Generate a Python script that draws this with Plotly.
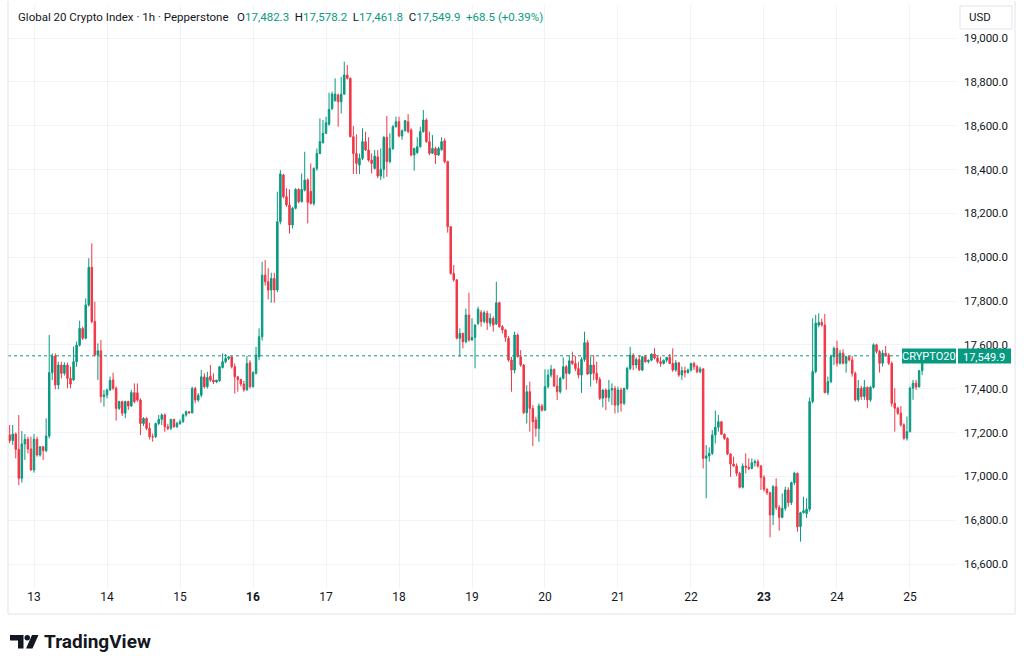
import plotly.graph_objects as go
import pandas as pd

# ---------------- data (hourly candles) ----------------
OPEN = [
    17189, 17163, 17193, 17123, 16991, 17148, 17169, 17125, 17029, 17169,
    17097, 17135, 17117, 17184, 17473, 17549, 17417, 17508, 17470, 17508,
    17447, 17440, 17523, 17599, 17675, 17630, 17782, 17954, 17706, 17554,
    17573, 17364, 17371, 17394, 17440, 17402, 17310, 17341, 17288, 17341,
    17321, 17382, 17381, 17348, 17241, 17264, 17219, 17181, 17181, 17241,
    17260, 17280, 17226, 17219, 17260, 17226, 17241, 17249, 17280, 17295,
    17290, 17401, 17348, 17370, 17454, 17409, 17457, 17439, 17431, 17436,
    17497, 17523, 17538, 17545, 17500, 17454, 17442, 17421, 17395, 17518,
    17409, 17470, 17546, 17637, 17918, 17888, 17850, 17903, 17850, 18162,
    18375, 18276, 18238, 18147, 18223, 18309, 18253, 18306, 18352, 18300,
    18245, 18405, 18473, 18522, 18565, 18607, 18679, 18714, 18740, 18709,
    18744, 18831, 18816, 18550, 18473, 18420, 18451, 18527, 18489, 18443,
    18405, 18458, 18370, 18401, 18547, 18436, 18496, 18595, 18618, 18553,
    18577, 18618, 18580, 18466, 18477, 18504, 18573, 18626, 18527, 18474,
    18496, 18466, 18490, 18531, 18436, 18139, 17926, 17896, 17630, 17652,
    17614, 17736, 17622, 17634, 17698, 17747, 17706, 17744, 17698, 17721,
    17695, 17792, 17683, 17668, 17630, 17531, 17485, 17645, 17546, 17508,
    17290, 17386, 17310, 17257, 17219, 17321, 17302, 17409, 17462, 17488,
    17412, 17386, 17447, 17500, 17470, 17527, 17515, 17492, 17462, 17533,
    17610, 17467, 17508, 17470, 17442, 17356, 17394, 17360, 17394, 17401,
    17325, 17394, 17333, 17401, 17492, 17553, 17508, 17533, 17485, 17546,
    17523, 17530, 17558, 17540, 17523, 17515, 17530, 17543, 17515, 17485,
    17518, 17462, 17482, 17473, 17485, 17515, 17500, 17477, 17490, 17082,
    17093, 17105, 17189, 17224, 17249, 17192, 17173, 17102, 17056, 17047,
    17014, 16950, 17047, 17041, 17036, 17062, 17067, 17047, 16995, 16941,
    16925, 16824, 16953, 16858, 16813, 16854, 16938, 16880, 16971, 17014,
    16770, 16834, 16830, 16850, 17341, 17478, 17690, 17702, 17690, 17382,
    17432, 17546, 17584, 17516, 17562, 17516, 17546, 17531, 17470, 17349,
    17402, 17364, 17406, 17349, 17406, 17600, 17570, 17516, 17562, 17554,
    17516, 17333, 17311, 17288, 17235, 17174, 17204, 17402, 17425, 17408,
    17482.3,
]
HIGH = [
    17234, 17234, 17200, 17280, 17207, 17193, 17181, 17181, 17193, 17181,
    17138, 17138, 17265, 17645, 17561, 17561, 17523, 17523, 17520, 17519,
    17500, 17592, 17615, 17710, 17683, 17812, 17995, 18063, 17797, 17607,
    17622, 17394, 17400, 17455, 17473, 17410, 17345, 17345, 17345, 17345,
    17394, 17424, 17424, 17356, 17270, 17269, 17244, 17195, 17245, 17280,
    17287, 17287, 17240, 17262, 17262, 17249, 17260, 17287, 17300, 17298,
    17409, 17409, 17380, 17485, 17470, 17477, 17508, 17470, 17440, 17504,
    17561, 17558, 17549, 17548, 17515, 17457, 17445, 17436, 17549, 17530,
    17480, 17591, 17675, 17979, 17987, 17949, 17929, 17929, 18299, 18397,
    18380, 18314, 18309, 18230, 18315, 18315, 18382, 18481, 18360, 18428,
    18410, 18496, 18633, 18626, 18641, 18750, 18755, 18816, 18747, 18823,
    18892, 18877, 18820, 18598, 18560, 18473, 18588, 18572, 18547, 18473,
    18489, 18489, 18496, 18552, 18644, 18565, 18603, 18641, 18641, 18583,
    18626, 18653, 18588, 18500, 18547, 18595, 18671, 18633, 18573, 18557,
    18504, 18504, 18547, 18542, 18440, 18142, 17964, 17900, 17675, 17656,
    17766, 17838, 17721, 17695, 17774, 17759, 17756, 17756, 17744, 17730,
    17888, 17797, 17690, 17672, 17640, 17545, 17660, 17652, 17576, 17512,
    17416, 17432, 17325, 17272, 17333, 17330, 17488, 17488, 17508, 17492,
    17462, 17454, 17543, 17508, 17553, 17569, 17549, 17523, 17543, 17660,
    17622, 17546, 17553, 17523, 17454, 17398, 17401, 17440, 17424, 17412,
    17409, 17405, 17405, 17500, 17591, 17561, 17543, 17553, 17549, 17553,
    17533, 17561, 17584, 17549, 17546, 17533, 17545, 17558, 17584, 17530,
    17520, 17500, 17500, 17492, 17518, 17523, 17508, 17500, 17495, 17143,
    17132, 17211, 17300, 17280, 17252, 17196, 17178, 17105, 17090, 17059,
    17021, 17059, 17105, 17082, 17082, 17077, 17077, 17052, 17005, 16945,
    16930, 16960, 16991, 16869, 16922, 16953, 16950, 16976, 17021, 17017,
    16838, 16907, 16900, 17360, 17721, 17737, 17744, 17720, 17741, 17455,
    17555, 17592, 17619, 17577, 17580, 17550, 17550, 17550, 17478, 17440,
    17413, 17440, 17410, 17413, 17607, 17605, 17577, 17577, 17595, 17562,
    17524, 17402, 17318, 17321, 17242, 17273, 17410, 17440, 17440, 17486,
    17578.2,
]
LOW = [
    17151, 17143, 17082, 16960, 16971, 17075, 17105, 17026, 17017, 17090,
    17090, 17075, 17110, 17173, 17440, 17397, 17397, 17447, 17460, 17402,
    17402, 17435, 17500, 17592, 17622, 17625, 17774, 17698, 17546, 17440,
    17336, 17318, 17356, 17390, 17394, 17254, 17303, 17275, 17265, 17303,
    17318, 17333, 17340, 17188, 17230, 17211, 17168, 17158, 17175, 17234,
    17234, 17203, 17210, 17211, 17222, 17222, 17235, 17245, 17272, 17285,
    17286, 17333, 17340, 17360, 17401, 17401, 17431, 17421, 17425, 17432,
    17492, 17515, 17530, 17492, 17378, 17386, 17410, 17386, 17390, 17401,
    17405, 17465, 17530, 17620, 17870, 17807, 17792, 17792, 17840, 18150,
    18268, 18230, 18108, 18131, 18218, 18245, 18250, 18300, 18154, 18240,
    18235, 18394, 18470, 18519, 18562, 18600, 18671, 18710, 18595, 18656,
    18740, 18811, 18547, 18379, 18379, 18379, 18443, 18485, 18435, 18382,
    18400, 18360, 18352, 18360, 18367, 18428, 18489, 18592, 18547, 18535,
    18573, 18565, 18460, 18395, 18471, 18500, 18568, 18522, 18466, 18471,
    18425, 18461, 18486, 18428, 18112, 17920, 17888, 17625, 17546, 17584,
    17607, 17614, 17619, 17493, 17690, 17683, 17698, 17668, 17683, 17660,
    17690, 17678, 17652, 17614, 17523, 17386, 17470, 17542, 17500, 17284,
    17241, 17204, 17138, 17181, 17158, 17295, 17299, 17401, 17451, 17409,
    17348, 17378, 17442, 17395, 17465, 17508, 17480, 17447, 17381, 17523,
    17462, 17409, 17439, 17424, 17348, 17315, 17302, 17340, 17325, 17287,
    17290, 17295, 17325, 17394, 17485, 17485, 17492, 17482, 17480, 17518,
    17515, 17525, 17533, 17515, 17500, 17510, 17520, 17512, 17477, 17477,
    17454, 17440, 17451, 17470, 17477, 17485, 17470, 17470, 17036, 16900,
    17067, 17097, 17150, 17204, 17189, 17166, 17097, 16998, 17044, 17001,
    16945, 16945, 17014, 17029, 17032, 17044, 17040, 16938, 16930, 16915,
    16722, 16778, 16846, 16752, 16808, 16843, 16862, 16869, 16960, 16747,
    16702, 16831, 16810, 16840, 17333, 17470, 17680, 17683, 17379, 17371,
    17425, 17508, 17501, 17510, 17510, 17473, 17525, 17455, 17341, 17341,
    17349, 17349, 17311, 17340, 17400, 17560, 17473, 17501, 17546, 17508,
    17318, 17204, 17280, 17227, 17166, 17163, 17200, 17349, 17394, 17406,
    17461.8,
]
CLOSE = [
    17163, 17193, 17123, 16991, 17148, 17169, 17125, 17029, 17169, 17097,
    17135, 17117, 17184, 17473, 17549, 17417, 17508, 17470, 17508, 17447,
    17421, 17523, 17599, 17675, 17630, 17782, 17954, 17706, 17554, 17573,
    17364, 17371, 17394, 17437, 17402, 17310, 17341, 17288, 17341, 17321,
    17382, 17341, 17348, 17241, 17264, 17219, 17181, 17180, 17241, 17260,
    17280, 17226, 17219, 17260, 17226, 17241, 17249, 17280, 17295, 17290,
    17401, 17348, 17370, 17454, 17409, 17451, 17439, 17431, 17439, 17500,
    17523, 17538, 17545, 17500, 17454, 17442, 17421, 17395, 17515, 17409,
    17473, 17553, 17637, 17918, 17888, 17850, 17903, 17850, 18162, 18380,
    18276, 18238, 18147, 18223, 18309, 18253, 18309, 18352, 18250, 18245,
    18405, 18473, 18527, 18565, 18613, 18674, 18744, 18744, 18709, 18744,
    18831, 18816, 18550, 18473, 18428, 18451, 18527, 18489, 18443, 18428,
    18461, 18370, 18401, 18547, 18436, 18496, 18595, 18618, 18553, 18577,
    18623, 18573, 18466, 18496, 18504, 18573, 18626, 18527, 18474, 18496,
    18466, 18496, 18527, 18436, 18139, 17926, 17896, 17630, 17652, 17614,
    17736, 17622, 17634, 17690, 17762, 17706, 17747, 17701, 17721, 17690,
    17792, 17683, 17668, 17634, 17531, 17485, 17645, 17546, 17508, 17290,
    17386, 17310, 17249, 17219, 17321, 17302, 17409, 17462, 17488, 17412,
    17386, 17447, 17500, 17470, 17527, 17515, 17492, 17462, 17533, 17610,
    17467, 17508, 17470, 17442, 17356, 17394, 17360, 17394, 17401, 17325,
    17394, 17333, 17401, 17492, 17553, 17508, 17533, 17485, 17546, 17523,
    17530, 17558, 17540, 17523, 17515, 17530, 17543, 17515, 17485, 17518,
    17462, 17482, 17473, 17485, 17515, 17500, 17477, 17490, 17082, 17093,
    17105, 17189, 17224, 17249, 17192, 17173, 17102, 17056, 17047, 17014,
    16950, 17047, 17041, 17036, 17062, 17067, 17047, 16995, 16941, 16925,
    16824, 16953, 16858, 16813, 16854, 16938, 16880, 16971, 17014, 16770,
    16834, 16843, 16850, 17341, 17478, 17699, 17702, 17690, 17382, 17432,
    17546, 17584, 17516, 17562, 17516, 17546, 17531, 17470, 17349, 17402,
    17364, 17406, 17349, 17406, 17600, 17570, 17516, 17562, 17554, 17516,
    17333, 17311, 17288, 17235, 17174, 17204, 17402, 17425, 17408, 17481.4,
    17549.9,
]

FIRST_BAR = "2025-06-12 16:00"
TIMES = pd.date_range(FIRST_BAR, periods=len(CLOSE), freq="h")

DAY_TICKS = pd.date_range("2025-06-13", "2025-06-25", freq="D")
DAY_LABELS = ["13", "14", "15", "16", "17", "18", "19", "20", "21", "22", "23", "24", "25"]
BOLD_LABELS = ["16", "23"]
PRICE_TICKS = [16600, 16800, 17000, 17200, 17400, 17600, 17800, 18000,
               18200, 18400, 18600, 18800, 19000]

TITLE = "Global 20 Crypto Index · 1h · Pepperstone"
SYMBOL = "CRYPTO20"
CURRENCY = "USD"

# ---------------- style ----------------
UP = "#089981"
DOWN = "#F23645"
TEXT = "#131722"
GRID = "#f0f3fa"
FRAME = "#e0e3eb"
FONT = "Roboto"

W, H = 1024, 668
ML, MR, MT, MB = 8, 69, 5, 80
PW, PH = W - ML - MR, H - MT - MB


def fx(px):
    return (px - ML) / PW


def fy(py):
    return (H - MB - py) / PH


last_o, last_h, last_l, last_c = OPEN[-1], HIGH[-1], LOW[-1], CLOSE[-1]
chg = last_c - CLOSE[-2]
pct = chg / CLOSE[-2] * 100

fig = go.Figure(
    go.Candlestick(
        x=TIMES, open=OPEN, high=HIGH, low=LOW, close=CLOSE,
        increasing=dict(line=dict(color=UP, width=1), fillcolor=UP),
        decreasing=dict(line=dict(color=DOWN, width=1), fillcolor=DOWN),
        whiskerwidth=0, hoverinfo="skip",
    )
)

ticktext = [f"<b>{d}</b>" if d in BOLD_LABELS else d for d in DAY_LABELS]

fig.update_layout(
    template="none",
    width=W, height=H,
    margin=dict(l=ML, r=MR, t=MT, b=MB, pad=0),
    paper_bgcolor="white", plot_bgcolor="white",
    showlegend=False,
    font=dict(family=FONT, color=TEXT, size=12),
    xaxis=dict(
        type="date",
        range=["2025-06-12 15:27", "2025-06-25 14:48"],
        rangeslider=dict(visible=False),
        tickvals=DAY_TICKS, ticktext=ticktext,
        showgrid=True, gridcolor=GRID, gridwidth=1,
        zeroline=False, showline=False, ticks="",
        tickfont=dict(size=12, color=TEXT, family=FONT),
        automargin=False, fixedrange=True,
    ),
    yaxis=dict(
        side="right",
        range=[16490.5, 19150.6],
        tickvals=PRICE_TICKS, tickformat=",.1f",
        showgrid=True, gridcolor=GRID, gridwidth=1,
        zeroline=False, showline=False, ticks="",
        ticklabelstandoff=8,
        tickfont=dict(size=11.5, color=TEXT, family=FONT),
        automargin=False, fixedrange=True,
    ),
)

shapes = []
# last price dotted line
shapes.append(dict(type="line", xref="paper", yref="y", x0=0, x1=fx(902),
                   y0=last_c, y1=last_c, line=dict(color=UP, width=1, dash="dot")))
# price labels on axis
shapes.append(dict(type="rect", xref="paper", yref="paper", x0=fx(902), x1=fx(956),
                   y0=fy(363.5), y1=fy(348.5), fillcolor=UP, line=dict(width=0)))
shapes.append(dict(type="rect", xref="paper", yref="paper", x0=fx(958), x1=fx(1011),
                   y0=fy(363.5), y1=fy(348.5), fillcolor=UP, line=dict(width=0)))
# USD box
shapes.append(dict(type="rect", xref="paper", yref="paper", x0=fx(960), x1=fx(1012),
                   y0=fy(29), y1=fy(6), fillcolor="white", line=dict(color=FRAME, width=1)))
# outer frame
for x0, y0, x1, y1 in [(8, 1, 8, 614), (8, 614, 1015, 614), (1015, 1, 1015, 614)]:
    shapes.append(dict(type="line", xref="paper", yref="paper", x0=fx(x0), x1=fx(x1),
                       y0=fy(y0), y1=fy(y1), line=dict(color=FRAME, width=1)))


def path(points):
    s = "M" + " L".join(f"{fx(a):.5f},{fy(b):.5f}" for a, b in points) + " Z"
    return s


# TradingView logo glyph
shapes.append(dict(type="path", xref="paper", yref="paper",
                   path=path([(10, 635), (23.5, 635), (23.5, 648.5), (18, 648.5), (18, 640.5), (10, 640.5)]),
                   fillcolor=TEXT, line=dict(width=0)))
shapes.append(dict(type="circle", xref="paper", yref="paper",
                   x0=fx(24.5), x1=fx(30), y0=fy(640.5), y1=fy(635),
                   fillcolor=TEXT, line=dict(width=0)))
shapes.append(dict(type="path", xref="paper", yref="paper",
                   path=path([(32, 635), (38.5, 635), (32.5, 648.5), (26, 648.5)]),
                   fillcolor=TEXT, line=dict(width=0)))
fig.update_layout(shapes=shapes)

G = lambda s: f'<span style="color:{UP}">{s}</span>'
NB = "\u00a0"
header = (TITLE + NB * 3 +
          "O" + G(f"{last_o:,.1f}") + NB * 2 +
          "H" + G(f"{last_h:,.1f}") + NB * 2 +
          "L" + G(f"{last_l:,.1f}") + NB * 2 +
          "C" + G(f"{last_c:,.1f}") + NB * 2 +
          G(f"{chg:+.1f} ({pct:+.2f}%)"))

annotations = [
    dict(text=header, xref="paper", yref="paper", x=fx(16), y=fy(17),
         xanchor="left", yanchor="middle", showarrow=False,
         font=dict(family=FONT, size=11.5, color=TEXT)),
    dict(text=CURRENCY, xref="paper", yref="paper", x=fx(967), y=fy(17.5),
         xanchor="left", yanchor="middle", showarrow=False,
         font=dict(family=FONT, size=11.5, color=TEXT)),
    dict(text=SYMBOL, xref="paper", yref="paper", x=fx(929), y=fy(356.5),
         xanchor="center", yanchor="middle", showarrow=False, borderpad=0,
         font=dict(family=FONT, size=11, color="white")),
    dict(text=f"{last_c:,.1f}", xref="paper", yref="paper", x=fx(984.5), y=fy(357),
         xanchor="center", yanchor="middle", showarrow=False, borderpad=0,
         font=dict(family=FONT, size=11, color="white")),
    dict(text="<b>TradingView</b>", xref="paper", yref="paper", x=fx(42), y=fy(641.5),
         xanchor="left", yanchor="middle", showarrow=False,
         font=dict(family=FONT, size=19, color=TEXT)),
]
fig.update_layout(annotations=annotations)

fig.write_html(
    "out.html",
    config={"displayModeBar": False},
    post_script="document.body.style.margin='0';document.body.style.overflow='hidden';",
)
